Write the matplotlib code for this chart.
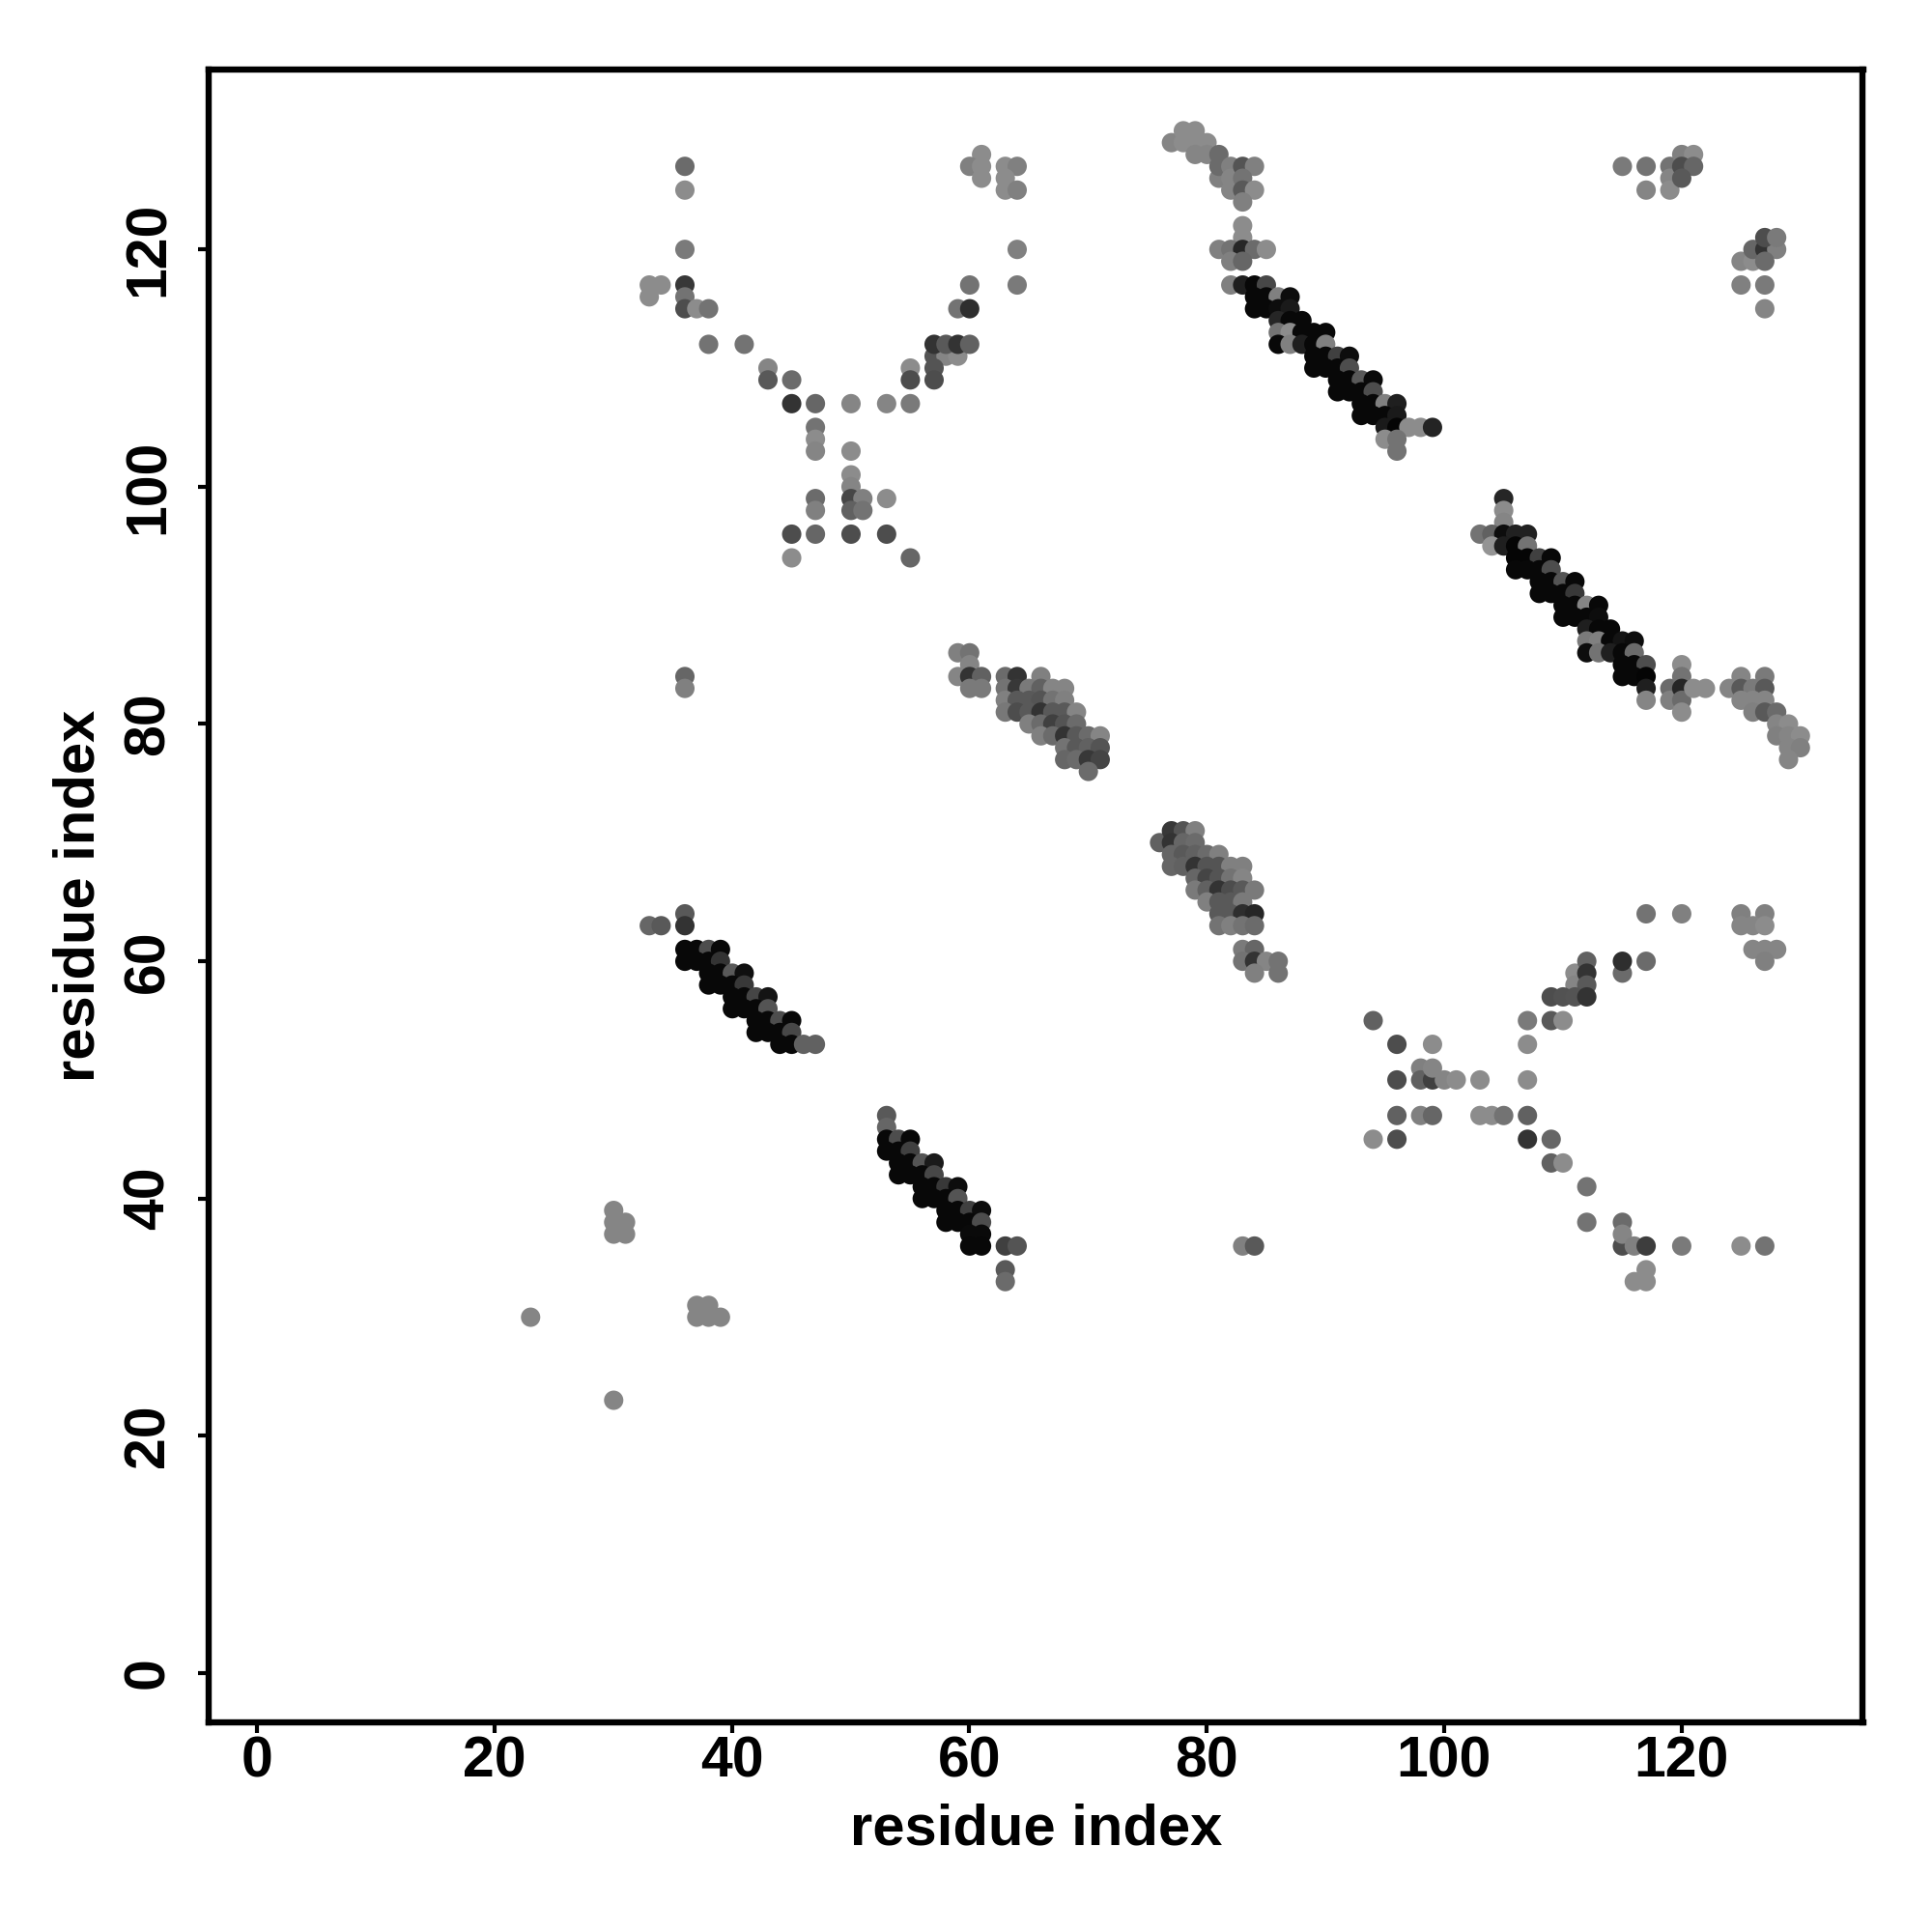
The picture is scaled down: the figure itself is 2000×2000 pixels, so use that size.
import numpy as np
import matplotlib
matplotlib.use("Agg")
import matplotlib.pyplot as plt

plt.rcParams['font.family'] = ['Liberation Sans', 'DejaVu Sans']

# (residue x, residue y, grey level)
cross_upper = [
    (36,127,.42),(36,125,.55),(36,120,.48),(33,117,.55),(34,117,.55),(33,116,.55),(36,117,.22),(36,116,.45),
    (36,115,.3),(37,115,.55),(38,115,.45),(38,112,.45),(41,112,.45),(43,110,.52),(43,109,.35),(45,109,.42),
    (45,107,.2),(47,107,.4),(50,107,.52),(53,107,.52),(55,107,.48),(47,105,.45),(47,104,.55),(47,103,.52),
    (50,103,.55),(50,101,.55),(50,100,.52),(50,99,.28),(51,99,.5),(53,99,.55),(47,99,.42),(47,98,.5),
    (50,98,.38),(51,98,.45),(45,96,.3),(47,96,.4),(50,96,.3),(53,96,.3),(45,94,.55),(55,94,.4),
    (61,128,.55),(60,127,.5),(61,127,.55),(61,126,.55),(63,127,.55),(64,127,.5),(63,126,.55),(63,125,.55),
    (64,125,.5),(64,120,.5),(60,117,.45),(64,117,.48),(59,115,.45),(60,115,.18),(57,111,.33),(58,111,.52),
    (59,111,.55),(57,112,.2),(58,112,.35),(59,112,.2),(60,112,.38),(57,110,.33),(55,110,.55),(55,109,.3),(57,109,.3),
]
top_cluster = [
    (77,129,.52),(78,130,.55),(79,130,.55),(80,129,.55),(78,129,.55),(79,129,.55),(79,128,.52),(80,128,.52),
    (81,128,.42),(81,126,.5),(81,127,.42),(82,127,.5),(82,126,.52),(82,125,.52),(83,127,.33),(84,127,.5),
    (83,126,.45),(83,125,.35),(84,125,.55),(83,124,.5),(83,122,.55),(83,121,.55),(81,120,.5),(82,120,.45),
    (83,120,.15),(84,120,.42),(85,120,.55),(82,119,.5),(83,119,.4),
]
sheet_upper = [
    (82,117,.5),(83,117,.12),(84,117,.03),(85,117,.28),(84,116,.03),(85,116,.03),(86,116,.5),(87,116,.05),
    (84,115,.03),(85,115,.03),(86,115,.05),(87,115,.1),(86,114,.15),(87,114,.03),(88,114,.03),
    (86,113,.45),(87,113,.55),(88,113,.03),(89,113,.03),(90,113,.03),(86,112,.03),(87,112,.5),(88,112,.12),
    (89,112,.03),(90,112,.5),(89,111,.03),(90,111,.03),(91,111,.25),(92,111,.05),(89,110,.03),(90,110,.03),
    (91,110,.03),(92,110,.3),(91,109,.03),(92,109,.03),(93,109,.35),(94,109,.04),(91,108,.03),(92,108,.03),
    (93,108,.03),(94,108,.3),(93,107,.03),(94,107,.03),(95,107,.5),(96,107,.12),(93,106,.03),(94,106,.03),
    (95,106,.03),(96,106,.1),(95,105,.1),(96,105,.02),(97,105,.55),(98,105,.55),(99,105,.14),(95,104,.55),
    (96,104,.45),(96,103,.45),
]
sheet_right = [
    (105,99,.15),(105,98,.55),(105,97,.52),(103,96,.45),(104,96,.38),(105,96,.05),(106,96,.13),(107,96,.13),
    (104,95,.58),(105,95,.12),(106,95,.02),(107,95,.45),(106,94,.02),(107,94,.02),(108,94,.25),(109,94,.03),
    (106,93,.03),(107,93,.03),(108,93,.03),(109,93,.3),(108,92,.03),(109,92,.03),(110,92,.33),(111,92,.03),
    (108,91,.03),(109,91,.03),(110,91,.03),(111,91,.22),(110,90,.03),(111,90,.03),(112,90,.52),(113,90,.03),
    (110,89,.03),(111,89,.03),(112,89,.03),(113,89,.05),(112,88,.12),(113,88,.03),(114,88,.03),
    (112,87,.48),(113,87,.5),(114,87,.03),(115,87,.08),(116,87,.05),(112,86,.05),(113,86,.45),(114,86,.12),
    (115,86,.03),(116,86,.42),(115,85,.03),(116,85,.03),(117,85,.3),(115,84,.03),(116,84,.03),(117,84,.02),
    (117,83,.12),(117,82,.52),
]
right_cluster = [
    (119,83,.42),(119,82,.5),(120,85,.55),(120,84,.45),(120,83,.15),(120,82,.42),(120,81,.55),(121,83,.55),
    (122,83,.55),(124,83,.52),(125,84,.52),(127,84,.48),(125,83,.35),(126,83,.48),(127,83,.35),(125,82,.52),
    (126,82,.52),(127,82,.52),(126,81,.5),(127,81,.35),(128,81,.42),(128,80,.52),(129,80,.55),(128,79,.5),
    (129,79,.52),(130,79,.55),(129,78,.52),(130,78,.5),(129,77,.52),
]
middle_patch = [
    (59,86,.5),(60,86,.45),(60,85,.52),(59,84,.52),(60,84,.2),(61,84,.38),(60,83,.48),(61,83,.48),
    (63,84,.42),(64,84,.2),(66,84,.5),(63,83,.45),(64,83,.22),(65,83,.48),(66,83,.38),(67,83,.52),(68,83,.52),
    (63,82,.5),(64,82,.35),(65,82,.35),(66,82,.33),(67,82,.45),(68,82,.5),(63,81,.47),(64,81,.3),(65,81,.35),
    (66,81,.2),(67,81,.35),(68,81,.35),(69,81,.52),(65,80,.5),(66,80,.42),(67,80,.25),(68,80,.33),(69,80,.42),
    (66,79,.5),(67,79,.42),(68,79,.2),(69,79,.35),(70,79,.42),(71,79,.52),(68,78,.45),(69,78,.35),(70,78,.38),
    (71,78,.33),(68,77,.4),(69,77,.42),(70,77,.22),(71,77,.27),(70,76,.42),
]
mirror_patch = [
    (76,70,.38),(77,71,.22),(78,71,.33),(79,71,.5),(77,70,.2),(78,70,.4),(79,70,.42),(77,69,.4),(78,69,.35),
    (79,69,.38),(80,69,.42),(81,69,.5),(77,68,.4),(78,68,.38),(79,68,.2),(80,68,.33),(81,68,.33),(82,68,.5),
    (83,68,.5),(79,67,.4),(80,67,.27),(81,67,.33),(82,67,.45),(83,67,.52),(79,66,.48),(80,66,.38),(81,66,.2),
    (82,66,.3),(83,66,.35),(84,66,.48),(80,65,.5),(81,65,.35),(82,65,.35),(83,65,.48),(81,64,.35),(82,64,.35),
    (83,64,.18),(84,64,.15),(81,63,.45),(82,63,.5),(83,63,.45),(84,63,.42),(83,61,.48),(84,61,.4),(83,60,.45),
    (84,60,.2),(85,60,.52),(86,60,.45),(84,59,.5),(86,59,.45),
]
sheet_lower_left = [
    (33,63,.4),(34,63,.35),(36,64,.35),(36,63,.2),(36,61,.03),(37,61,.03),(38,61,.3),(39,61,.03),(36,60,.03),
    (37,60,.03),(38,60,.03),(39,60,.2),(38,59,.03),(39,59,.03),(40,59,.35),(41,59,.06),(38,58,.03),(39,58,.03),
    (40,58,.03),(41,58,.22),(40,57,.03),(41,57,.03),(42,57,.27),(43,57,.08),(40,56,.03),(41,56,.03),(42,56,.03),
    (43,56,.33),(42,55,.03),(43,55,.03),(44,55,.3),(45,55,.03),(42,54,.03),(43,54,.03),(44,54,.03),(45,54,.28),
    (44,53,.03),(45,53,.03),(46,53,.38),(47,53,.38),
]
sheet_lower_mid = [
    (53,47,.35),(53,46,.4),(53,45,.03),(54,45,.3),(55,45,.03),(53,44,.03),(54,44,.03),(55,44,.25),(54,43,.03),
    (55,43,.03),(56,43,.33),(57,43,.1),(54,42,.03),(55,42,.03),(56,42,.03),(57,42,.28),(56,41,.03),(57,41,.03),
    (58,41,.22),(59,41,.05),(56,40,.03),(57,40,.03),(58,40,.03),(59,40,.33),(58,39,.03),(59,39,.03),(60,39,.25),
    (61,39,.05),(58,38,.03),(59,38,.03),(60,38,.03),(61,38,.3),(60,37,.04),(61,37,.04),(60,36,.03),(61,36,.03),
    (63,36,.25),(64,36,.33),(63,34,.35),(63,33,.42),
]
cross_lower = [
    (117,64,.45),(120,64,.5),(125,64,.5),(127,64,.5),(125,63,.52),(126,63,.52),(127,63,.55),(126,61,.52),
    (127,61,.52),(128,61,.52),(127,60,.5),(111,59,.55),(111,58,.52),(112,60,.38),(112,59,.2),(112,58,.35),
    (115,59,.42),(115,60,.18),(117,60,.42),(109,57,.3),(110,57,.32),(111,57,.33),(112,57,.2),(94,55,.38),
    (107,55,.48),(109,55,.35),(110,55,.55),(96,53,.3),(99,53,.55),(107,53,.55),(98,51,.5),(98,50,.38),(99,50,.25),
    (99,51,.52),(96,50,.3),(100,50,.52),(101,50,.55),(103,50,.55),(107,50,.55),(96,47,.38),(98,47,.5),(99,47,.4),
    (103,47,.55),(104,47,.55),(105,47,.45),(107,47,.38),(94,45,.55),(96,45,.3),(107,45,.2),(109,45,.4),
    (109,43,.38),(110,43,.55),(112,41,.45),(112,38,.45),(115,36,.3),(115,38,.42),(115,37,.52),(116,36,.5),
    (117,36,.24),(120,36,.48),(125,36,.55),(127,36,.45),(117,34,.55),(116,33,.55),(117,33,.55),
]
isolated = [
    (23,30,.52),(30,39,.52),(30,38,.52),(31,38,.52),(30,37,.52),(31,37,.52),(30,23,.52),(37,31,.52),(38,31,.52),
    (37,30,.52),(38,30,.52),(39,30,.52),(36,84,.4),(36,83,.5),(83,36,.5),(84,36,.35),
]
corner_upper = [
    (115,127,.48),(117,127,.45),(117,125,.52),(119,127,.45),(119,126,.52),(119,125,.55),(120,128,.5),(121,128,.55),
    (120,127,.3),(121,127,.4),(120,126,.35),(125,119,.52),(126,119,.55),(126,120,.4),(127,120,.2),(128,120,.5),
    (127,121,.3),(128,121,.48),(127,119,.42),(125,117,.5),(127,117,.48),(127,115,.52),
]

tick_values = [0, 20, 40, 60, 80, 100, 120]
x_label = "residue index"
y_label = "residue index"

regions = [cross_upper, top_cluster, sheet_upper, sheet_right, right_cluster, middle_patch,
           mirror_patch, sheet_lower_left, sheet_lower_mid, cross_lower, isolated, corner_upper]
points = np.array([p for region in regions for p in region])
colors = [str(g) for g in points[:, 2]]

fig = plt.figure(figsize=(10, 10), dpi=200)
ax = fig.add_axes([216 / 2000, 1 - 1783 / 2000, (1928.5 - 216) / 2000, (1783 - 71.5) / 2000])
ax.scatter(points[:, 0] + 0.03, points[:, 1], s=52, c=colors, linewidths=0)

ax.set_xlim(-4.1, 135.3)
ax.set_ylim(-4.15, 135.2)
ax.set_xticks(tick_values)
ax.set_yticks(tick_values)
ax.tick_params(axis='both', length=4, width=1.5, labelsize=21.2)
ax.tick_params(axis='x', pad=1)
ax.tick_params(axis='y', pad=8.5)
for lab in ax.get_xticklabels():
    lab.set_fontweight('bold')
for lab in ax.get_yticklabels():
    lab.set_fontweight('bold')
    lab.set_rotation(90)
    lab.set_va('center')
for spine in ax.spines.values():
    spine.set_linewidth(2.3)

ax.set_xlabel(x_label, fontsize=21.5, fontweight='bold', va='center')
ax.set_ylabel(y_label, fontsize=21.5, fontweight='bold', va='center')
ax.xaxis.set_label_coords(0.5, -0.065)
ax.yaxis.set_label_coords(-0.0785, 0.5)

fig.savefig("out.png", dpi=200)
